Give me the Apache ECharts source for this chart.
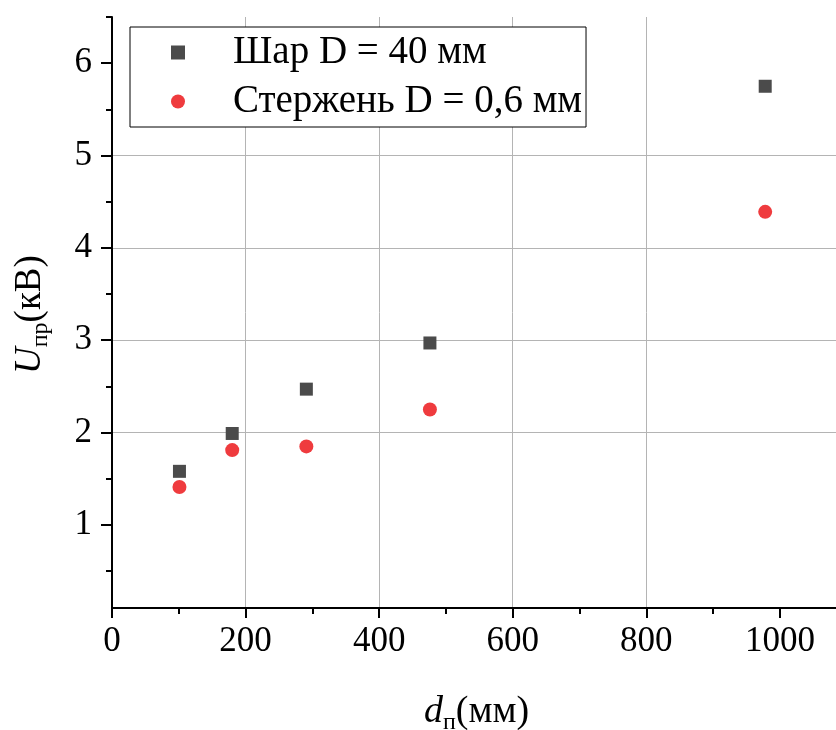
<!DOCTYPE html>
<html>
<head>
<meta charset="utf-8">
<script src="https://cdn.jsdelivr.net/npm/echarts@6/dist/echarts.min.js"></script>
<style>html,body{margin:0;padding:0;background:#fff}#c{width:836px;height:730px}</style>
</head>
<body>
<div id="c"></div>
<script>
// ---- data ----
const distances = [101, 180, 291, 476, 978];          // d_п, мм
const sharValues = [1.58, 1.99, 2.47, 2.97, 5.75];    // Шар D = 40 мм, кВ
const rodValues = [1.41, 1.81, 1.85, 2.25, 4.39];     // Стержень D = 0,6 мм, кВ
const seriesNames = ['Шар D = 40 мм', 'Стержень D = 0,6 мм'];
const xMajorTicks = [0, 200, 400, 600, 800, 1000];
const xMinorTicks = [100, 300, 500, 700, 900];
const yMajorTicks = [1, 2, 3, 4, 5, 6];
const yMinorTicks = [0.5, 1.5, 2.5, 3.5, 4.5, 5.5, 6.5];
const xRange = [0, 1084];
const yRange = [0.1, 6.5];

const FONT = "'Liberation Serif', 'Times New Roman', serif";
const chart = echarts.init(document.getElementById('c'), null, {renderer: 'canvas'});
const pairs = (ys) => distances.map((x, i) => [x, ys[i]]);
const gridColor = '#b4b4b4';
const plain = (v) => String(v);

const option = {
  animation: false,
  backgroundColor: '#ffffff',
  grid: {left: 112, top: 17, right: 0, bottom: 122, containLabel: false},
  legend: {
    orient: 'vertical', left: 130, top: 27,
    padding: [6, 4, 6, 41], itemGap: 10,
    itemWidth: 14, itemHeight: 14,
    backgroundColor: '#ffffff', borderColor: '#000', borderWidth: 1,
    textStyle: {fontFamily: FONT, fontSize: 39, color: '#000', padding: [0, 0, 0, 43]},
    data: [{name: seriesNames[0], icon: 'rect'}, {name: seriesNames[1], icon: 'circle'}]
  },
  xAxis: [{
    type: 'value', min: xRange[0], max: xRange[1], minInterval: 200, maxInterval: 200,
    position: 'bottom',
    axisLine: {show: true, onZero: false, lineStyle: {color: '#000', width: 2}},
    axisTick: {show: true, customValues: xMajorTicks, length: 10, lineStyle: {color: '#000', width: 2}},
    axisLabel: {customValues: xMajorTicks, formatter: plain, fontFamily: FONT, fontSize: 35, color: '#000', margin: 16},
    splitLine: {show: true, showMinLine: false, showMaxLine: false, lineStyle: {color: gridColor, width: 1}}
  }, {
    type: 'value', min: xRange[0], max: xRange[1], position: 'bottom',
    axisLine: {show: false, onZero: false},
    axisTick: {show: true, customValues: xMinorTicks, length: 6, lineStyle: {color: '#000', width: 2}},
    axisLabel: {show: false}, splitLine: {show: false}
  }],
  yAxis: [{
    type: 'value', min: yRange[0], max: yRange[1], minInterval: 1, maxInterval: 1,
    axisLine: {show: true, onZero: false, lineStyle: {color: '#000', width: 2}},
    axisTick: {show: true, customValues: yMajorTicks, length: 11, lineStyle: {color: '#000', width: 2}},
    axisLabel: {customValues: yMajorTicks, formatter: plain, fontFamily: FONT, fontSize: 35, color: '#000', margin: 20},
    splitLine: {show: true, showMinLine: false, showMaxLine: false, lineStyle: {color: gridColor, width: 1}}
  }, {
    type: 'value', min: yRange[0], max: yRange[1], position: 'left',
    axisLine: {show: false, onZero: false},
    axisTick: {show: true, customValues: yMinorTicks, length: 6, lineStyle: {color: '#000', width: 2}},
    axisLabel: {show: false}, splitLine: {show: false}
  }],
  series: [{
    name: seriesNames[0], type: 'scatter', xAxisIndex: 0, yAxisIndex: 0,
    symbol: 'rect', symbolSize: 13,
    itemStyle: {color: '#4b4b4b', opacity: 1},
    data: pairs(sharValues)
  }, {
    name: seriesNames[1], type: 'scatter', xAxisIndex: 0, yAxisIndex: 0,
    symbol: 'circle', symbolSize: 14,
    itemStyle: {color: '#ef3b3e', opacity: 1},
    data: pairs(rodValues)
  }],
  graphic: [{
    type: 'text', x: 424, y: 712,
    style: {
      text: '{i|d}{s|п}{n|(мм)}',
      verticalAlign: 'middle', align: 'left',
      rich: {
        i: {fontFamily: FONT, fontStyle: 'italic', fontSize: 38, fill: '#000'},
        s: {fontFamily: FONT, fontSize: 24, fill: '#000', padding: [22, 0, 0, 0]},
        n: {fontFamily: FONT, fontSize: 38, fill: '#000'}
      }
    }
  }, {
    type: 'text', x: 30, y: 374, rotation: Math.PI / 2,
    style: {
      text: '{i|U}{s|пр}{n|(кВ)}',
      verticalAlign: 'middle', align: 'left',
      rich: {
        i: {fontFamily: FONT, fontStyle: 'italic', fontSize: 37, fill: '#000'},
        s: {fontFamily: FONT, fontSize: 24, fill: '#000', padding: [22, 0, 0, 0]},
        n: {fontFamily: FONT, fontSize: 37, fill: '#000'}
      }
    }
  }]
};
chart.setOption(option);
</script>
</body>
</html>
